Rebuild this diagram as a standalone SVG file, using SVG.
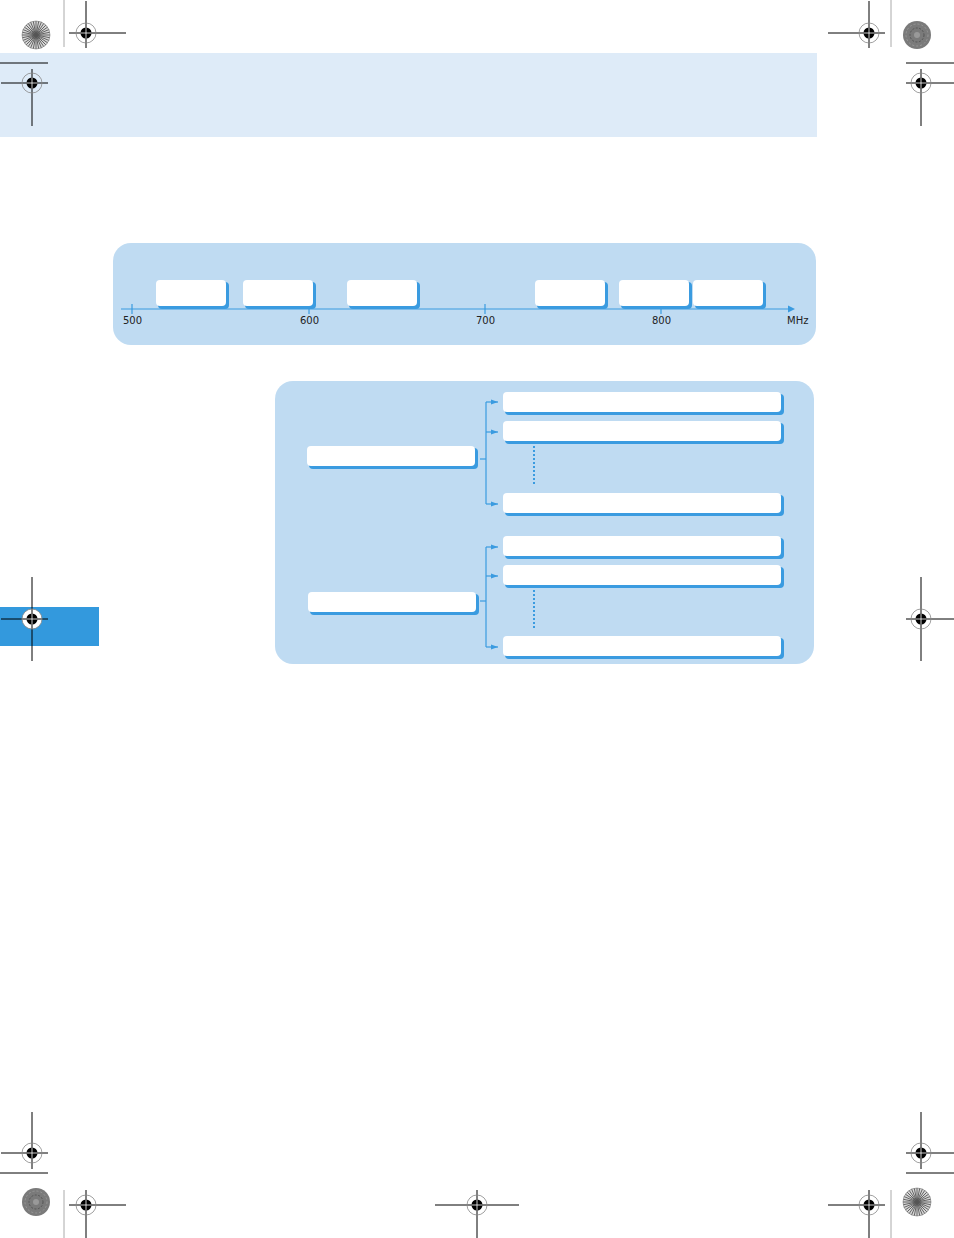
<svg xmlns="http://www.w3.org/2000/svg" width="954" height="1238" viewBox="0 0 954 1238">
<style>
.panel{fill:#bfdbf2}
.box{fill:#ffffff}
.sh{fill:#3a9be0}
.ax{stroke:#3a9be0;stroke-width:1.2;fill:none}
.lbl{font-family:"DejaVu Sans","Liberation Sans",sans-serif;font-size:10px;fill:#222}
.rk{stroke:#000;stroke-width:1;fill:none}
.grey{stroke:#aaa;stroke-width:1}
</style>
<defs>
<marker id="ah" markerWidth="8" markerHeight="6" refX="7" refY="3" orient="auto" markerUnits="userSpaceOnUse">
<path d="M0,0.5 L7,3 L0,5.5 Z" fill="#3a9be0"/>
</marker>
<g id="star">
<circle r="14" fill="#d8d8d8"/>
<g stroke="#555" stroke-width="0.9">
<line x1="-14" y1="0" x2="14" y2="0"/><line x1="0" y1="-14" x2="0" y2="14"/>
<line x1="-9.9" y1="-9.9" x2="9.9" y2="9.9"/><line x1="-9.9" y1="9.9" x2="9.9" y2="-9.9"/>
<line x1="-12.9" y1="-5.4" x2="12.9" y2="5.4"/><line x1="-12.9" y1="5.4" x2="12.9" y2="-5.4"/>
<line x1="-5.4" y1="-12.9" x2="5.4" y2="12.9"/><line x1="-5.4" y1="12.9" x2="5.4" y2="-12.9"/>
<line x1="-13.7" y1="-2.7" x2="13.7" y2="2.7"/><line x1="-13.7" y1="2.7" x2="13.7" y2="-2.7"/>
<line x1="-2.7" y1="-13.7" x2="2.7" y2="13.7"/><line x1="-2.7" y1="13.7" x2="2.7" y2="-13.7"/>
<line x1="-11.6" y1="-7.8" x2="11.6" y2="7.8"/><line x1="-11.6" y1="7.8" x2="11.6" y2="-7.8"/>
<line x1="-7.8" y1="-11.6" x2="7.8" y2="11.6"/><line x1="-7.8" y1="11.6" x2="7.8" y2="-11.6"/>
</g>
<circle r="14" fill="none" stroke="#777" stroke-width="0.6"/>
</g>
<g id="disc">
<circle r="14" fill="#7a7a7a"/>
<circle r="11" fill="none" stroke="#999" stroke-width="1" stroke-dasharray="2 2"/>
<circle r="7" fill="none" stroke="#555" stroke-width="1" stroke-dasharray="2 1.5"/>
<circle r="3" fill="#999"/>
</g>
<g id="eye">
<circle r="10" fill="none" stroke="#888" stroke-width="0.8"/>
<circle r="5.5" fill="#000"/>
<line x1="-5.5" y1="0" x2="5.5" y2="0" stroke="#fff" stroke-width="0.8"/>
<line x1="0" y1="-5.5" x2="0" y2="5.5" stroke="#fff" stroke-width="0.8"/>
</g>
</defs>

<!-- header band -->
<rect x="0" y="53" width="817" height="84" fill="#deebf8"/>
<!-- side tab -->
<rect x="0" y="607" width="99" height="39" fill="#3399dd"/>

<!-- printer marks -->
<g id="marks">
<use href="#star" x="36" y="35"/>
<line x1="64" y1="0" x2="64" y2="47" class="grey"/>
<g transform="translate(86,33)"><line x1="-17" y1="0" x2="40" y2="0" class="rk"/><line x1="0" y1="-32" x2="0" y2="15" class="rk"/><use href="#eye"/></g>
<line x1="0" y1="63" x2="48" y2="63" class="rk"/>
<g transform="translate(32,83)"><line x1="-31" y1="0" x2="16" y2="0" class="rk"/><line x1="0" y1="-14" x2="0" y2="43" class="rk"/><use href="#eye"/></g>

<use href="#disc" x="917" y="35"/>
<line x1="891" y1="0" x2="891" y2="47" class="grey"/>
<g transform="translate(869,33)"><line x1="-41" y1="0" x2="16" y2="0" class="rk"/><line x1="0" y1="-32" x2="0" y2="15" class="rk"/><use href="#eye"/></g>
<line x1="906" y1="63" x2="954" y2="63" class="rk"/>
<g transform="translate(921,83)"><line x1="-15" y1="0" x2="33" y2="0" class="rk"/><line x1="0" y1="-14" x2="0" y2="43" class="rk"/><use href="#eye"/></g>

<g transform="translate(32,619)"><line x1="-31" y1="0" x2="16" y2="0" class="rk"/><line x1="0" y1="-42" x2="0" y2="42" class="rk"/><circle r="10" fill="#fff"/><line x1="-10" y1="0" x2="10" y2="0" class="rk"/><line x1="0" y1="-10" x2="0" y2="10" class="rk"/><use href="#eye"/></g>
<g transform="translate(921,619)"><line x1="-15" y1="0" x2="33" y2="0" class="rk"/><line x1="0" y1="-42" x2="0" y2="42" class="rk"/><use href="#eye"/></g>

<g transform="translate(32,1153)"><line x1="-31" y1="0" x2="16" y2="0" class="rk"/><line x1="0" y1="-41" x2="0" y2="16" class="rk"/><use href="#eye"/></g>
<line x1="0" y1="1173" x2="48" y2="1173" class="rk"/>
<use href="#disc" x="36" y="1202"/>
<line x1="64" y1="1190" x2="64" y2="1238" class="grey"/>
<g transform="translate(86,1205)"><line x1="-17" y1="0" x2="40" y2="0" class="rk"/><line x1="0" y1="-15" x2="0" y2="33" class="rk"/><use href="#eye"/></g>

<g transform="translate(477,1205)"><line x1="-42" y1="0" x2="42" y2="0" class="rk"/><line x1="0" y1="-15" x2="0" y2="33" class="rk"/><use href="#eye"/></g>

<g transform="translate(921,1153)"><line x1="-15" y1="0" x2="33" y2="0" class="rk"/><line x1="0" y1="-41" x2="0" y2="16" class="rk"/><use href="#eye"/></g>
<line x1="906" y1="1173" x2="954" y2="1173" class="rk"/>
<use href="#star" x="917" y="1202"/>
<line x1="891" y1="1190" x2="891" y2="1238" class="grey"/>
<g transform="translate(869,1205)"><line x1="-41" y1="0" x2="16" y2="0" class="rk"/><line x1="0" y1="-15" x2="0" y2="33" class="rk"/><use href="#eye"/></g>
</g>

<!-- panels -->
<rect id="freq-panel" class="panel" x="113" y="243" width="703" height="102" rx="18"/>
<rect id="chan-panel" class="panel" x="275" y="381" width="539" height="283" rx="18"/>

<g id="connectors">
<line x1="121" y1="309" x2="789" y2="309" class="ax"/>
<path d="M788,305.5 L795,309 L788,312.5 Z" fill="#3a9be0"/>
<g class="ax">
<line x1="132" y1="304" x2="132" y2="314"/>
<line x1="309" y1="304" x2="309" y2="314"/>
<line x1="485" y1="304" x2="485" y2="314"/>
<line x1="661" y1="304" x2="661" y2="314"/>
</g>
<!-- bracket 1 -->
<path d="M486,402 L486,504" class="ax"/>
<line x1="480" y1="459" x2="486" y2="459" class="ax"/>
<line x1="486" y1="402" x2="498" y2="402" class="ax" marker-end="url(#ah)"/>
<line x1="486" y1="432" x2="498" y2="432" class="ax" marker-end="url(#ah)"/>
<line x1="486" y1="504" x2="498" y2="504" class="ax" marker-end="url(#ah)"/>
<line x1="534" y1="446" x2="534" y2="486" stroke="#3a9be0" stroke-width="2" stroke-dasharray="2 2"/>
<!-- bracket 2 -->
<path d="M486,547 L486,647" class="ax"/>
<line x1="480" y1="601" x2="486" y2="601" class="ax"/>
<line x1="486" y1="547" x2="498" y2="547" class="ax" marker-end="url(#ah)"/>
<line x1="486" y1="576" x2="498" y2="576" class="ax" marker-end="url(#ah)"/>
<line x1="486" y1="647" x2="498" y2="647" class="ax" marker-end="url(#ah)"/>
<line x1="534" y1="590" x2="534" y2="630" stroke="#3a9be0" stroke-width="2" stroke-dasharray="2 2"/>
</g>
<g id="axis-labels">
<text class="lbl" x="123" y="324">500</text>
<text class="lbl" x="300" y="324">600</text>
<text class="lbl" x="476" y="324">700</text>
<text class="lbl" x="652" y="324">800</text>
<text class="lbl" x="787" y="324">MHz</text>
</g>
<g id="band1"><rect class="sh" x="158" y="282" width="71" height="27" rx="4"/><rect class="box" x="156" y="280" width="70" height="26" rx="4"/></g>
<g id="band2"><rect class="sh" x="245" y="282" width="71" height="27" rx="4"/><rect class="box" x="243" y="280" width="70" height="26" rx="4"/></g>
<g id="band3"><rect class="sh" x="349" y="282" width="71" height="27" rx="4"/><rect class="box" x="347" y="280" width="70" height="26" rx="4"/></g>
<g id="band4"><rect class="sh" x="537" y="282" width="71" height="27" rx="4"/><rect class="box" x="535" y="280" width="70" height="26" rx="4"/></g>
<g id="band5"><rect class="sh" x="621" y="282" width="71" height="27" rx="4"/><rect class="box" x="619" y="280" width="70" height="26" rx="4"/></g>
<g id="band6"><rect class="sh" x="695" y="282" width="71" height="27" rx="4"/><rect class="box" x="693" y="280" width="70" height="26" rx="4"/></g>

<g id="src1"><rect class="sh" x="309" y="448" width="169" height="21" rx="4"/><rect class="box" x="307" y="446" width="168" height="20" rx="4"/></g>
<g id="ch1a"><rect class="sh" x="505" y="394" width="279" height="21" rx="4"/><rect class="box" x="503" y="392" width="278" height="20" rx="4"/></g>
<g id="ch1b"><rect class="sh" x="505" y="423" width="279" height="21" rx="4"/><rect class="box" x="503" y="421" width="278" height="20" rx="4"/></g>
<g id="ch1n"><rect class="sh" x="505" y="495" width="279" height="21" rx="4"/><rect class="box" x="503" y="493" width="278" height="20" rx="4"/></g>
<g id="src2"><rect class="sh" x="310" y="594" width="169" height="21" rx="4"/><rect class="box" x="308" y="592" width="168" height="20" rx="4"/></g>
<g id="ch2a"><rect class="sh" x="505" y="538" width="279" height="21" rx="4"/><rect class="box" x="503" y="536" width="278" height="20" rx="4"/></g>
<g id="ch2b"><rect class="sh" x="505" y="567" width="279" height="21" rx="4"/><rect class="box" x="503" y="565" width="278" height="20" rx="4"/></g>
<g id="ch2n"><rect class="sh" x="505" y="638" width="279" height="21" rx="4"/><rect class="box" x="503" y="636" width="278" height="20" rx="4"/></g>
</svg>
